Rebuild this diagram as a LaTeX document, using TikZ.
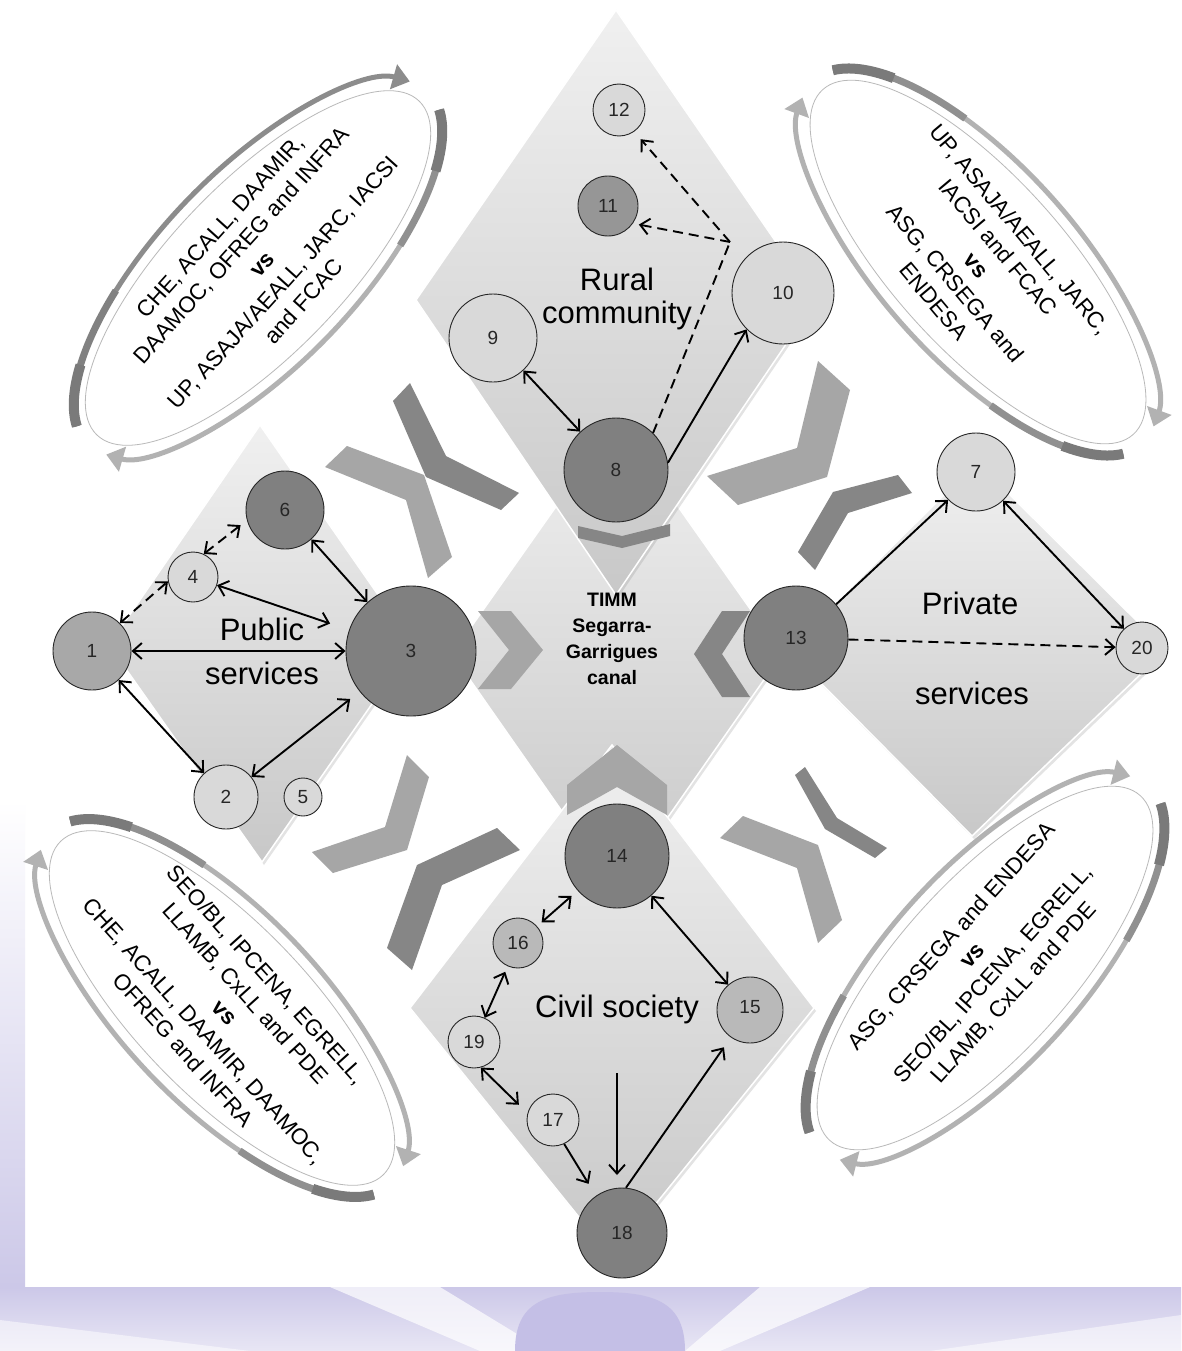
\documentclass[tikz,border=0pt]{standalone}
\usepackage{fontspec}
\setmainfont{Liberation Sans}
\usetikzlibrary{arrows.meta,shadows}
\definecolor{ndark}{RGB}{128,128,128}
\definecolor{nmid}{RGB}{168,168,168}
\definecolor{nmidd}{RGB}{150,150,150}
\definecolor{nmidl}{RGB}{185,185,185}
\definecolor{nlight}{RGB}{217,217,217}
\definecolor{chdark}{RGB}{134,134,134}
\definecolor{chlight}{RGB}{166,166,166}
\definecolor{adark}{RGB}{122,122,122}
\definecolor{amid}{RGB}{140,140,140}
\definecolor{alight}{RGB}{178,178,178}
\definecolor{lav}{RGB}{204,200,232}
\definecolor{lavd}{RGB}{196,191,230}
\definecolor{dtop}{RGB}{240,240,240}
\definecolor{dbot}{RGB}{200,200,200}
\newcommand{\ellarrows}[6]{%
\begin{scope}[shift={#1}, rotate=#2, y=1pt]
  \draw[ellout] (0,0) ellipse [x radius=232, y radius=86];
  \draw[line width=5pt, draw=#4, -{Triangle[length=17pt,width=25pt]}]
    (168:245 and 98) arc[start angle=168, end angle=12, x radius=245, y radius=98];
  \draw[line width=7pt, draw=#3!60!#4] (168:245 and 98) arc[start angle=168, end angle=118, x radius=245, y radius=98];
  \draw[line width=10pt, draw=#3] (168:245 and 98) arc[start angle=168, end angle=142, x radius=245, y radius=98];
  \draw[line width=5pt, draw=#6, -{Triangle[length=17pt,width=25pt]}]
    (-12:245 and 98) arc[start angle=-12, end angle=-168, x radius=245, y radius=98];
  \draw[line width=7pt, draw=#5!60!#6] (-12:245 and 98) arc[start angle=-12, end angle=-62, x radius=245, y radius=98];
  \draw[line width=10pt, draw=#5] (-12:245 and 98) arc[start angle=-12, end angle=-38, x radius=245, y radius=98];
\end{scope}}
\begin{document}
\begin{tikzpicture}[x=1pt,y=-1pt,
  circ/.style={circle, draw=black!85, line width=0.9pt, inner sep=0pt, text=black!85, font=\fontsize{19}{19}\selectfont},
  nd/.style 2 args={circ, fill=#1, minimum size=#2},
  diam/.style={top color=dtop, bottom color=dbot, draw=white, line width=1.5pt, drop shadow={opacity=0.22,shadow xshift=2pt,shadow yshift=-3pt}},
  ellout/.style={draw=gray!55, line width=0.8pt, fill=white},
  etext/.style={align=center, font=\fontsize{22.5}{28}\selectfont, inner sep=0pt},
  lbl/.style={inner sep=0pt, text height=0.72em, text depth=0.2em, font=\fontsize{31}{31}\selectfont},
  timm/.style={align=center, inner sep=0pt, font=\bfseries\fontsize{19.5}{26}\selectfont},
  conn/.style={line width=1.9pt, black},
  dbl/.style={conn, {Straight Barb[length=9pt,width=16pt]}-{Straight Barb[length=9pt,width=16pt]}},
  sgl/.style={conn, -{Straight Barb[length=9pt,width=16pt]}},
  dsh/.style={dash pattern=on 10pt off 6pt}
]
\useasboundingbox (0,0) rectangle (1181,1351);
\fill[white] (0,0) rectangle (1181,1351);
% bottom lavender band
\shade[top color=lav, bottom color=lav!45!white] (0,1287) rectangle (1181,1351);
\fill[white, opacity=0.7] (330,1287) -- (440,1287) -- (545,1351) -- (480,1351) -- cycle;
\fill[white, opacity=0.7] (760,1287) -- (870,1287) -- (720,1351) -- (685,1351) -- cycle;
\fill[white, opacity=0.5] (0,1320) -- (250,1351) -- (0,1351) -- cycle;
\fill[white, opacity=0.5] (1181,1315) -- (930,1351) -- (1181,1351) -- cycle;
\fill[lavd] (515,1351) .. controls (515,1302) and (545,1292) .. (600,1292) .. controls (655,1292) and (685,1302) .. (685,1351) -- cycle;
\shade[top color=white, bottom color=lav] (0,800) rectangle (25,1287);

% ellipses with circular arrows
\ellarrows{(258,268)}{46}{adark}{amid}{adark}{alight}
\ellarrows{(978,262)}{-48}{adark}{alight}{adark}{alight}
\ellarrows{(222,1008)}{-46}{adark}{alight}{adark}{alight}
\ellarrows{(985,968)}{48}{adark}{alight}{adark}{alight}

\node[etext, rotate=48] (tUL) at (262,264) {CHE, ACALL, DAAMIR,\\DAAMOC, OFREG and INFRA\\\textbf{vs}\\UP, ASAJA/AEALL, JARC, IACSI\\and FCAC};
\node[etext, rotate=-50] (tUR) at (977,265) {UP, ASAJA/AEALL, JARC,\\IACSI and FCAC\\\textbf{vs}\\ASG, CRSEGA and\\ENDESA};
\node[etext, rotate=-48] (tLL) at (225,1012) {SEO/BL, IPCENA, EGRELL,\\LLAMB, CxLL and PDE\\\textbf{vs}\\CHE, ACALL, DAAMIR, DAAMOC,\\OFREG and INFRA};
\node[etext, rotate=48] (tLR) at (983,965) {ASG, CRSEGA and ENDESA\\\textbf{vs}\\SEO/BL, IPCENA, EGRELL,\\LLAMB, CxLL and PDE};

% diamonds
\path[diam] (617,420) -- (782,654) -- (617,890) -- (452,654) -- cycle;
\path[diam] (260,425) -- (413,645) -- (262,862) -- (109,645) -- cycle;
\path[diam] (977,462) -- (1166,650) -- (972,836) -- (788,650) -- cycle;
\path[diam] (616,10) -- (816,300) -- (616,595) -- (416,300) -- cycle;
\path[diam] (612,745) -- (814,1008) -- (612,1258) -- (410,1008) -- cycle;

% chevrons in the gaps
\fill[chlight] (325,467) -- (347,446) -- (424,475) -- (452,557) -- (428,578) -- (406,500) -- cycle;
\fill[chdark] (393,401) -- (410,383) -- (446,456) -- (519,493) -- (501,510) -- (426,477) -- cycle;
\fill[chlight] (818,361) -- (850,390) -- (827,477) -- (738,505) -- (707,476) -- (797,448) -- cycle;
\fill[chdark] (833,492) -- (898,475) -- (912,493) -- (848,513) -- (815,570) -- (798,552) -- cycle;
\fill[chlight] (407,755) -- (429,777) -- (407,850) -- (333,873) -- (312,852) -- (385,827) -- cycle;
\fill[chdark] (417,865) -- (497,828) -- (520,850) -- (442,885) -- (412,970) -- (387,948) -- cycle;
\fill[chlight] (720,838) -- (743,816) -- (818,845) -- (842,920) -- (818,943) -- (797,868) -- cycle;
\fill[chdark] (795,775) -- (805,767) -- (837,818) -- (887,848) -- (875,858) -- (825,829) -- cycle;
% chevrons round the centre
\fill[chlight] (478,611) -- (511,611) -- (543,650) -- (511,689) -- (478,689) -- (509,650) -- cycle;
\fill[chdark] (750,611) -- (722,611) -- (694,654) -- (722,697) -- (750,697) -- (722,654) -- cycle;
\fill[chdark] (578,526) -- (622,536) -- (670,524) -- (670,536) -- (622,548) -- (578,538) -- cycle;
\fill[chlight] (567,785) -- (617,745) -- (667,785) -- (667,815) -- (617,787) -- (567,815) -- cycle;

% diamond labels
\node[lbl] (lRural) at (617,288) {Rural};
\node[lbl] (lComm) at (617,321) {community};
\node[lbl] (lPub) at (262,638) {Public};
\node[lbl] (lPubS) at (262,682) {services};
\node[lbl] (lPriv) at (970,612) {Private};
\node[lbl] (lPrivS) at (972,702) {services};
\node[lbl] (lCivil) at (617,1015) {Civil society};
\node[timm] (lTimm) at (612,639) {TIMM\\Segarra-\\Garrigues\\canal};

% nodes
\node[nd={nlight}{52pt}] (n12) at (619,110) {12};
\node[nd={nmidd}{60pt}] (n11) at (608,206) {11};
\node[nd={nlight}{88pt}] (n9) at (493,338) {9};
\node[nd={nlight}{102pt}] (n10) at (783,293) {10};
\node[nd={ndark}{104pt}] (n8) at (616,470) {8};
\node[nd={ndark}{78pt}] (n6) at (285,510) {6};
\node[nd={nlight}{50pt}] (n4) at (193,577) {4};
\node[nd={nmid}{78pt}] (n1) at (92,651) {1};
\node[nd={ndark}{130pt}] (n3) at (411,651) {3};
\node[nd={nlight}{64pt}] (n2) at (226,797) {2};
\node[nd={nlight}{38pt}] (n5) at (303,797) {5};
\node[nd={nlight}{78pt}] (n7) at (976,472) {7};
\node[nd={ndark}{104pt}] (n13) at (796,638) {13};
\node[nd={nlight}{52pt}] (n20) at (1142,648) {20};
\node[nd={ndark}{104pt}] (n14) at (617,856) {14};
\node[nd={nmidl}{50pt}] (n16) at (518,943) {16};
\node[nd={nmidl}{66pt}] (n15) at (750,1010) {\raisebox{7pt}{15}};
\node[nd={nlight}{52pt}] (n19) at (474,1042) {19};
\node[nd={nlight}{52pt}] (n17) at (553,1120) {17};
\node[nd={ndark}{90pt}] (n18) at (622,1233) {18};
\coordinate (V) at (730,242);
\coordinate (va) at (617,1073);
\coordinate (vb) at (617,1175);

% connectors: rural community
\draw[dbl] (n9) -- (n8);
\draw[sgl] (n8.8) -- (n10.225);
\draw[conn, dsh] (n8.45) -- (V);
\draw[sgl, dsh, shorten >=6pt] (V) -- (n11.-35);
\draw[sgl, dsh, shorten >=10pt] (V) -- (n12.-55);
% public services
\draw[dbl] (n1) -- (n3);
\draw[dbl] (n1) -- (n2);
\draw[dbl, shorten >=12pt] (n2) -- (n3);
\draw[dbl, shorten >=20pt] (n4) -- (n3);
\draw[dbl] (n6) -- (n3);
\draw[dbl, dsh] (n1.45) -- (n4.190);
\draw[dbl, dsh, shorten >=8pt] (n4.65) -- (n6.195);
% private services
\draw[sgl] (n13.40) -- (n7.225);
\draw[dbl] (n7) -- (n20);
\draw[sgl, dsh] (n13) -- (n20);
% civil society
\draw[dbl, shorten <=8pt, shorten >=6pt] (n14) -- (n16);
\draw[dbl] (n14) -- (n15);
\draw[dbl, shorten <=6pt] (n16) -- (n19);
\draw[dbl, shorten >=12pt] (n19.-75) -- (n17.165);
\draw[sgl, shorten >=14pt] (n17.-65) -- (n18.125);
\draw[sgl, shorten >=12pt] (n18.85) -- (n15.235);
\draw[sgl] (va) -- (vb);
\end{tikzpicture}
\end{document}
